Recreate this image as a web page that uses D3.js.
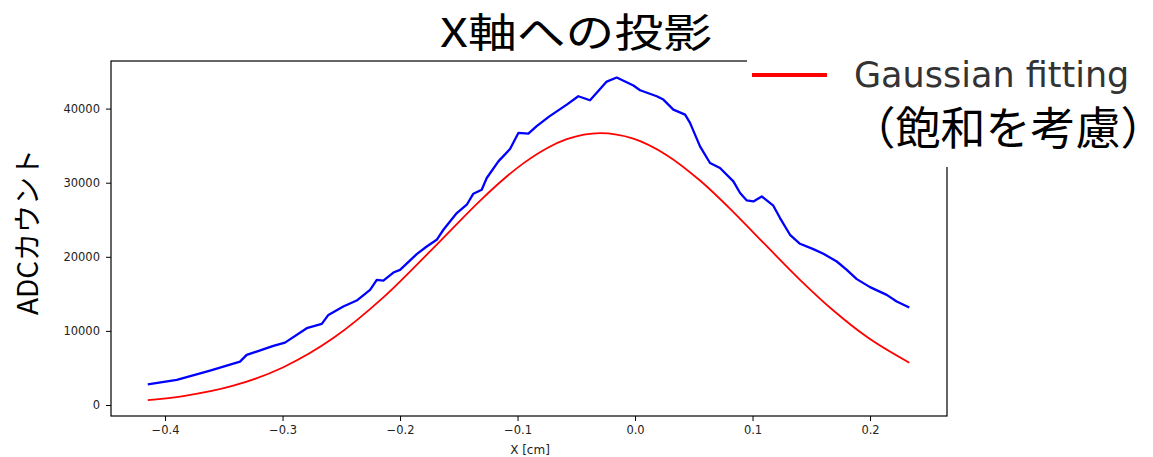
<!DOCTYPE html>
<html>
<head>
<meta charset="utf-8">
<script src="https://cdn.jsdelivr.net/npm/d3@7"></script>
<style>
  html, body { margin: 0; padding: 0; background: #fff; }
  svg { display: block; }
  .legend-jp { font-feature-settings: "halt" 1; }
</style>
</head>
<body>
<svg id="chart" width="1153" height="457"></svg>
<script>
// Projection onto the X axis: measured ADC counts and a Gaussian fit
const measuredX = [-0.4147,-0.3900,-0.3617,-0.3362,-0.3305,-0.3078,-0.2979,-0.2794,-0.2666,-0.2610,-0.2483,-0.2369,-0.2255,-0.2198,-0.2142,-0.2057,-0.2000,-0.1858,-0.1773,-0.1688,-0.1631,-0.1517,-0.1432,-0.1376,-0.1305,-0.1262,-0.1163,-0.1064,-0.0993,-0.0908,-0.0837,-0.0732,-0.0581,-0.0483,-0.0383,-0.0241,-0.0156,-0.0014,0.0043,0.0185,0.0241,0.0326,0.0426,0.0468,0.0553,0.0638,0.0723,0.0837,0.0894,0.0951,0.1007,0.1078,0.1177,0.1234,0.1319,0.1404,0.1517,0.1603,0.1717,0.1802,0.1887,0.2000,0.2142,0.2227,0.2334];
const measuredCounts = [2797,3378,4635,5851,6757,7973,8419,10365,10946,12162,13284,14095,15541,16892,16797,17878,18243,20365,21392,22297,23649,25906,27027,28514,29054,30635,32880,34554,36716,36622,37636,38919,40541,41663,41123,43649,44190,43109,42474,41663,41217,39865,39190,38068,34907,32663,31987,30176,28609,27609,27474,28150,26893,25230,22973,21757,21041,20406,19365,18243,16987,15906,14865,13960,13149];

const fitX = [-0.4147,-0.3844,-0.3419,-0.2993,-0.2568,-0.2142,-0.1717,-0.1291,-0.1149,-0.0951,-0.0738,-0.0581,-0.0298,-0.0014,0.0270,0.0553,0.0837,0.1121,0.1404,0.1688,0.1972,0.2334];
const fitCounts = [660,1210,2600,5100,9030,14520,21170,27990,30060,32610,34760,35870,36700,35950,33720,30290,26040,21430,16900,12750,9200,5710];

const xTicks = [-0.4,-0.3,-0.2,-0.1,0.0,0.1,0.2];
const yTicks = [0,10000,20000,30000,40000];

const titleText = "X軸への投影";
const xLabel = "X [cm]";
const yLabel = "ADCカウント";
const legendLine1 = "Gaussian fitting";
const legendLine2 = "（飽和を考慮）";

const svg = d3.select("#chart");
const plot = { left: 111, right: 947, top: 61, bottom: 416 };

const x = d3.scaleLinear().domain([-0.446, 0.2655]).range([plot.left, plot.right]);
const y = d3.scaleLinear().domain([-1484, 46424]).range([plot.bottom, plot.top]);

const tickFont = "'DejaVu Sans', sans-serif";

// axes
const xAxis = d3.axisBottom(x).tickValues(xTicks).tickFormat(d3.format(".1f")).tickSizeOuter(0).tickSize(5).tickPadding(5);
const yAxis = d3.axisLeft(y).tickValues(yTicks).tickFormat(d3.format("d")).tickSizeOuter(0).tickSize(5).tickPadding(6);

const gx = svg.append("g").attr("transform", `translate(0,${plot.bottom})`).call(xAxis);
const gy = svg.append("g").attr("transform", `translate(${plot.left},0)`).call(yAxis);
[gx, gy].forEach(g => {
  g.select(".domain").remove();
  g.selectAll(".tick line").attr("stroke", "#000").attr("stroke-width", 1);
  g.selectAll(".tick text").attr("font-family", tickFont).attr("font-size", 11.5).attr("fill", "#222");
});

// frame
svg.append("rect")
  .attr("x", plot.left).attr("y", plot.top)
  .attr("width", plot.right - plot.left).attr("height", plot.bottom - plot.top)
  .attr("fill", "none").attr("stroke", "#000").attr("stroke-width", 1.2);

// series
const measured = measuredX.map((d, i) => [d, measuredCounts[i]]);
const fitted = fitX.map((d, i) => [d, fitCounts[i]]);

svg.append("path")
  .datum(fitted)
  .attr("fill", "none").attr("stroke", "#ff0000").attr("stroke-width", 1.8)
  .attr("d", d3.line().x(d => x(d[0])).y(d => y(d[1])).curve(d3.curveMonotoneX));

svg.append("path")
  .datum(measured)
  .attr("fill", "none").attr("stroke", "#0000ff").attr("stroke-width", 2.3)
  .attr("stroke-linejoin", "round")
  .attr("d", d3.line().x(d => x(d[0])).y(d => y(d[1])));

// legend panel
svg.append("rect").attr("x", 747).attr("y", 54).attr("width", 406).attr("height", 113).attr("fill", "#fff");
svg.append("line").attr("x1", 752).attr("x2", 827).attr("y1", 75).attr("y2", 75)
  .attr("stroke", "#ff0000").attr("stroke-width", 4);
svg.append("text").attr("x", 854).attr("y", 87)
  .attr("font-family", tickFont).attr("font-size", 35).attr("fill", "#333")
  .text(legendLine1);
svg.append("text").attr("class", "legend-jp").attr("x", 873).attr("y", 145)
  .attr("font-family", "'Noto Sans CJK JP', sans-serif").attr("font-size", 45).attr("fill", "#000")
  .text(legendLine2);

// title
svg.append("text").attr("x", 576).attr("y", 47)
  .attr("text-anchor", "middle")
  .attr("font-family", "'Noto Sans CJK JP', sans-serif").attr("font-size", 40).attr("fill", "#000")
  .attr("textLength", 272).attr("lengthAdjust", "spacingAndGlyphs")
  .text(titleText);

// axis labels
svg.append("text").attr("x", 530).attr("y", 454)
  .attr("text-anchor", "middle")
  .attr("font-family", tickFont).attr("font-size", 12).attr("fill", "#222")
  .text(xLabel);
svg.append("text")
  .attr("transform", "translate(38,232) rotate(-90)")
  .attr("text-anchor", "middle")
  .attr("font-family", "'Noto Sans CJK JP', sans-serif").attr("font-size", 28).attr("fill", "#000")
  .text(yLabel);
</script>
</body>
</html>
